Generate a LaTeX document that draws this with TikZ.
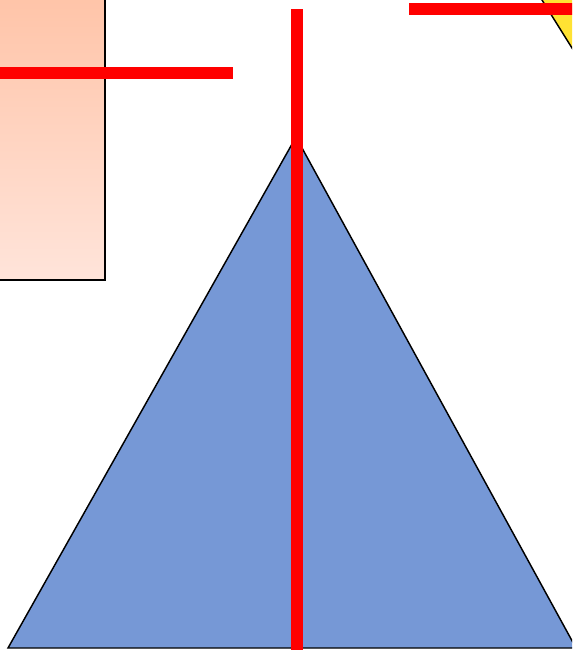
\documentclass[tikz,border=0pt]{standalone}
\usetikzlibrary{arrows.meta}
\definecolor{boxTop}{HTML}{FFC4A8}
\definecolor{boxBottom}{HTML}{FFE4DA}
\definecolor{triBlue}{HTML}{7698D6}
\definecolor{triYellow}{HTML}{FFE233}
\definecolor{barRed}{HTML}{FF0000}

\begin{document}
\begin{tikzpicture}[x=0.75pt, y=-0.75pt, line join=miter]

    \useasboundingbox (0,0) rectangle (572,650);
    \clip (0,0) rectangle (572,650);

    % shaded box, top left
    \draw[line width=1.1pt, top color=boxTop, bottom color=boxBottom]
        (-5,-5) rectangle (105,280);

    % yellow corner, top right
    \draw[line width=1.1pt, fill=triYellow]
        (529.5,-20) -- (584.5,68) -- (620,-20) -- cycle;

    % blue triangle
    \draw[line width=1.1pt, fill=triBlue]
        (296,137) -- (576,648) -- (8,648) -- cycle;

    % red bars
    \draw[barRed, line width=9pt] (0,73) -- (233,73);
    \draw[barRed, line width=9pt] (297,9) -- (297,655);
    \draw[barRed, line width=9pt] (409,9) -- (580,9);

\end{tikzpicture}
\end{document}
